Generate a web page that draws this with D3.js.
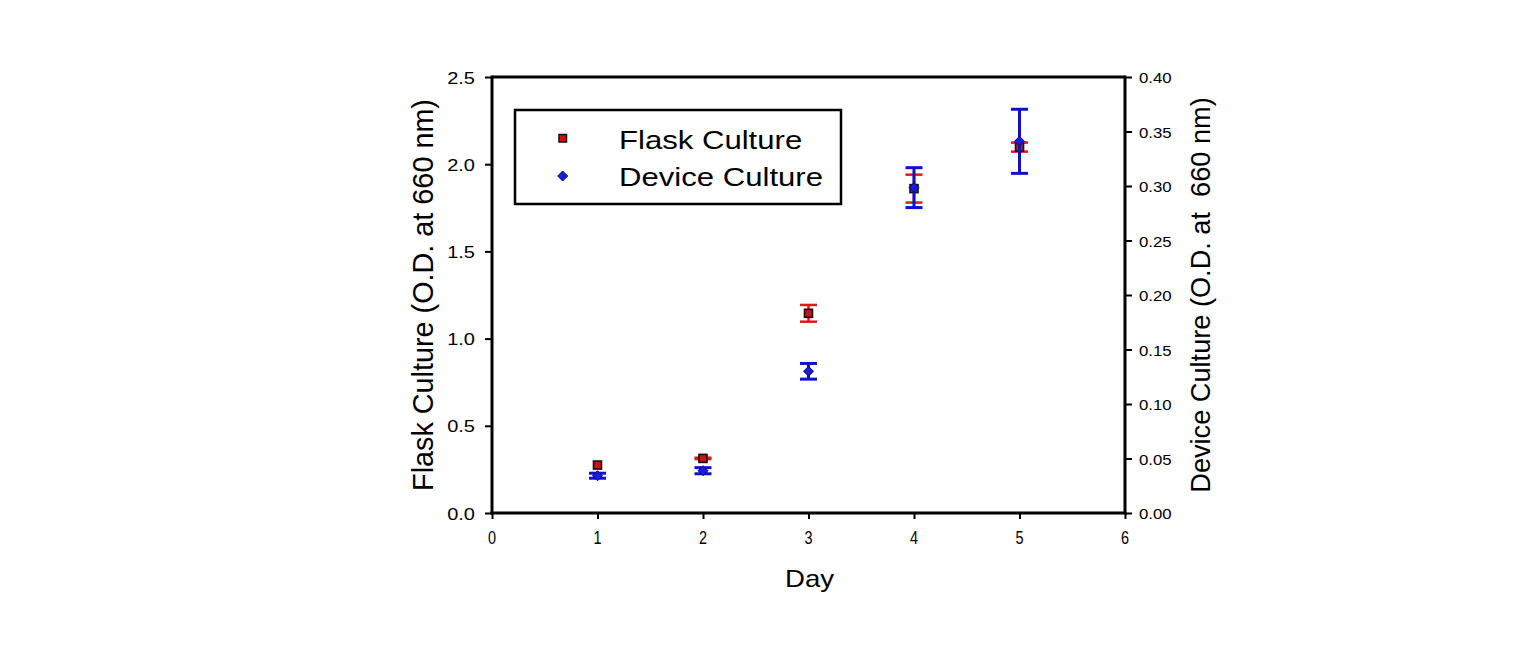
<!DOCTYPE html>
<html>
<head>
<meta charset="utf-8">
<script src="https://cdn.jsdelivr.net/npm/d3@7"></script>
<style>
  html, body { margin: 0; padding: 0; background: #fff; }
  svg { display: block; }
  text { font-family: "Liberation Sans", Arial, sans-serif; fill: #000; }
</style>
</head>
<body>
<svg id="chart" width="1537" height="661"></svg>
<script>
// ---- data ----
const days = [1, 2, 3, 4, 5];
const flaskValues = [0.275, 0.313, 1.145, 1.86, 2.098];
const flaskErrors = [0, 0.004, 0.048, 0.08, 0.026];
const deviceValues = [0.0342, 0.0388, 0.130, 0.2985, 0.341];
const deviceErrors = [0.0023, 0.0028, 0.0072, 0.0183, 0.0294];
const xTicks = [0, 1, 2, 3, 4, 5, 6];
const leftTicks = [0, 0.5, 1.0, 1.5, 2.0, 2.5];
const rightTicks = [0, 0.05, 0.10, 0.15, 0.20, 0.25, 0.30, 0.35, 0.40];
const seriesNames = ["Flask Culture", "Device Culture"];

// ---- layout ----
const L = 492, R = 1125, T = 77, B = 513;
const svg = d3.select("#chart");
const x = d3.scaleLinear().domain([0, 6]).range([L, R]);
const yL = d3.scaleLinear().domain([0, 2.5]).range([B, T]);
const yR = d3.scaleLinear().domain([0, 0.4]).range([B, T]);

const red = "#dd1a1a", redFill = "#cc1111";
const blue = "#1010c8", blueFill = "#1a1ae0";

// axes
const gx = svg.append("g").attr("transform", `translate(0,${B})`)
  .call(d3.axisBottom(x).tickValues(xTicks).tickSize(6).tickSizeOuter(0).tickFormat(d3.format("d")));
gx.attr("font-size", null).attr("font-family", null);
gx.selectAll("text").attr("y", 0).attr("dy", 0)
  .attr("font-size", 17).style("font-size", "17px")
  .attr("transform", "translate(-0.5,31) scale(0.85,1.05)");

const gl = svg.append("g").attr("transform", `translate(${L},0)`)
  .call(d3.axisLeft(yL).tickValues(leftTicks).tickSize(7).tickSizeOuter(0).tickFormat(d3.format(".1f")));
gl.attr("font-size", null).attr("font-family", null);
gl.selectAll("text").attr("x", 0).attr("dy", 0)
  .attr("transform", "translate(-17,6) scale(1.25,1)").style("font-size", "16px");

const gr = svg.append("g").attr("transform", `translate(${R},0)`)
  .call(d3.axisRight(yR).tickValues(rightTicks).tickSize(7).tickSizeOuter(0).tickFormat(d3.format(".2f")));
gr.attr("font-size", null).attr("font-family", null);
gr.selectAll("text").attr("x", 0).attr("dy", 0)
  .attr("transform", "translate(14,5.5) scale(1.2,1)").style("font-size", "14px");

[gx, gl, gr].forEach(g => {
  g.select(".domain").attr("stroke", "#000").attr("stroke-width", 3);
  g.selectAll(".tick line").attr("stroke", "#000").attr("stroke-width", 2);
});
gx.select(".domain").attr("d", `M${L - 1.5},0H${R + 1.5}`);
gl.select(".domain").attr("d", `M0,${B + 1.5}V${T - 1.5}`);
gr.select(".domain").attr("d", `M0,${B + 1.5}V${T - 1.5}`);
// top frame line
svg.append("line").attr("x1", L).attr("x2", R).attr("y1", T).attr("y2", T)
  .attr("stroke", "#000").attr("stroke-width", 3);

// axis titles
svg.append("text").text("Day")
  .attr("text-anchor", "middle")
  .attr("transform", `translate(${(L + R) / 2 + 1},587) scale(1.2,1)`)
  .style("font-size", "23px");
svg.append("text").text("Flask Culture (O.D. at 660 nm)")
  .attr("text-anchor", "middle")
  .attr("transform", `translate(433,${(T + B) / 2}) rotate(-90) scale(0.96,1)`)
  .style("font-size", "30px");
svg.append("text").text("Device Culture (O.D. at  660 nm)")
  .attr("text-anchor", "middle")
  .style("white-space", "pre")
  .attr("transform", `translate(1210,${(T + B) / 2}) rotate(-90) scale(0.97,1)`)
  .style("font-size", "28px");

// error bars helper
function errorBars(vals, errs, yScale, color, capW, sw) {
  const g = svg.append("g").attr("stroke", color).attr("stroke-width", sw);
  days.forEach((d, i) => {
    if (!errs[i]) return;
    const cx = x(d), y1 = yScale(vals[i] + errs[i]), y0 = yScale(vals[i] - errs[i]);
    g.append("line").attr("x1", cx).attr("x2", cx).attr("y1", y1).attr("y2", y0);
    g.append("line").attr("x1", cx - capW / 2).attr("x2", cx + capW / 2).attr("y1", y1).attr("y2", y1);
    g.append("line").attr("x1", cx - capW / 2).attr("x2", cx + capW / 2).attr("y1", y0).attr("y2", y0);
  });
}

// flask series
errorBars(flaskValues, flaskErrors, yL, red, 17, 2.5);
svg.append("g").selectAll("rect").data(days).join("rect")
  .attr("x", (d) => x(d) - 4).attr("y", (d, i) => yL(flaskValues[i]) - 4)
  .attr("width", 8).attr("height", 8)
  .attr("fill", redFill).attr("stroke", "#111").attr("stroke-width", 1.6);

// device series
errorBars(deviceValues, deviceErrors, yR, blue, 17, 3);
const diamond = "M0,-5L5,0L0,5L-5,0Z";
svg.append("g").selectAll("path").data(days).join("path")
  .attr("d", diamond)
  .attr("transform", (d, i) => `translate(${x(d)},${yR(deviceValues[i])})`)
  .attr("fill", blueFill).attr("stroke", "#10104a").attr("stroke-width", 1);

// legend
const lg = svg.append("g");
lg.append("rect").attr("x", 515).attr("y", 110).attr("width", 326).attr("height", 94)
  .attr("fill", "#fff").attr("stroke", "#000").attr("stroke-width", 2.5);
lg.append("rect").attr("x", 559).attr("y", 134.5).attr("width", 7.5).attr("height", 7.5)
  .attr("fill", redFill).attr("stroke", "#111").attr("stroke-width", 1.5);
lg.append("path").attr("d", diamond).attr("transform", "translate(562.7,176)")
  .attr("fill", blueFill).attr("stroke", "#10104a").attr("stroke-width", 1);
lg.append("text").text(seriesNames[0])
  .attr("transform", "translate(619,148.5) scale(1.22,1)").style("font-size", "25.5px");
lg.append("text").text(seriesNames[1])
  .attr("transform", "translate(619,185.5) scale(1.22,1)").style("font-size", "25.5px");
</script>
</body>
</html>
